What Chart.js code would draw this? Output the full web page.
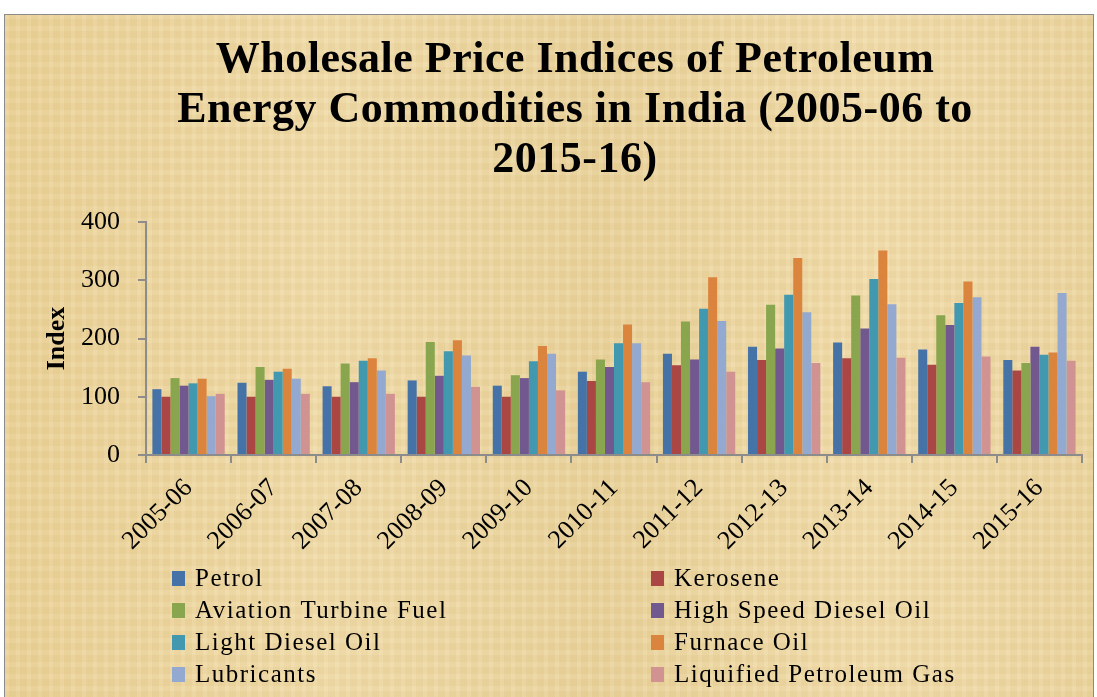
<!DOCTYPE html>
<html>
<head>
<meta charset="utf-8">
<script src="https://cdn.jsdelivr.net/npm/chart.js@4"></script>
<style>
  html, body { margin: 0; padding: 0; background: #fff; overflow: hidden; }
  #box {
    position: absolute; left: 4px; top: 14px; width: 1088px; height: 700px;
    border: 1px solid #8c8c8c;
    background-color: #edd6a0;
    background-image:
      repeating-linear-gradient(90deg, rgba(255,255,255,0.06) 0 4px, rgba(150,110,40,0.03) 4px 11px),
      repeating-linear-gradient(0deg, rgba(255,255,255,0.05) 0 5px, rgba(150,110,40,0.03) 5px 12px),
      linear-gradient(90deg, #ebd297, #f0dba8 30%, #ead39b 55%, #f1dcaa 80%, #ecd59f);
  }
  #wrap { position: absolute; left: 0; top: 0; width: 1097px; height: 697px; }
</style>
</head>
<body>
<div id="box"></div>
<div id="wrap"><canvas id="c" width="1097" height="697"></canvas></div>
<script>
const years = ["2005-06","2006-07","2007-08","2008-09","2009-10","2010-11","2011-12","2012-13","2013-14","2014-15","2015-16"];
const petrol     = [113, 124, 118, 128, 119, 143, 174, 186, 193, 181, 163];
const kerosene   = [100, 100, 100, 100, 100, 127, 154, 163, 166, 155, 145];
const atf        = [132, 151, 157, 194, 137, 164, 229, 258, 274, 240, 158];
const hsd        = [119, 129, 125, 136, 132, 151, 164, 183, 217, 223, 186];
const ldo        = [123, 143, 162, 178, 161, 192, 251, 275, 302, 261, 172];
const furnaceOil = [131, 148, 166, 197, 187, 224, 305, 338, 351, 298, 176];
const lubricants = [101, 131, 145, 171, 174, 192, 230, 245, 259, 271, 278];
const lpg        = [105, 105, 105, 117, 111, 125, 143, 158, 167, 169, 162];
const yTicks = [0, 100, 200, 300, 400];

const series = [
  ["Petrol", petrol, "#4572a7"],
  ["Kerosene", kerosene, "#aa4643"],
  ["Aviation Turbine Fuel", atf, "#89a54e"],
  ["High Speed Diesel Oil", hsd, "#71588f"],
  ["Light Diesel Oil", ldo, "#4198af"],
  ["Furnace Oil", furnaceOil, "#db843d"],
  ["Lubricants", lubricants, "#93a9cf"],
  ["Liquified Petroleum Gas", lpg, "#d19392"]
];

const serif = "'Liberation Serif', 'Times New Roman', serif";
const titleLines = ["Wholesale Price Indices of Petroleum", "Energy Commodities in India (2005-06 to", "2015-16)"];

const titlePlugin = {
  id: "titleLines",
  afterDraw(chart) {
    const ctx = chart.ctx;
    ctx.save();
    ctx.fillStyle = "#000";
    ctx.font = "bold 44px " + serif;
    ctx.letterSpacing = "0.5px";
    ctx.textAlign = "center";
    ctx.textBaseline = "alphabetic";
    titleLines.forEach((t, i) => ctx.fillText(t, 575, 72 + i * 50));
    ctx.restore();
  }
};

const legendPlugin = {
  id: "twoColLegend",
  afterDraw(chart) {
    const ctx = chart.ctx;
    ctx.save();
    ctx.font = "25px " + serif;
    ctx.letterSpacing = "1.5px";
    ctx.textBaseline = "middle";
    chart.data.datasets.forEach((ds, i) => {
      const col = i % 2, row = Math.floor(i / 2);
      const x = col === 0 ? 172 : 651;
      const y = 578 + row * 32;
      ctx.fillStyle = ds.backgroundColor;
      ctx.fillRect(x, y - 7, 13, 15);
      ctx.fillStyle = "#000";
      ctx.fillText(ds.label, x + 23, y + 1);
    });
    ctx.restore();
  }
};

new Chart(document.getElementById("c"), {
  type: "bar",
  data: {
    labels: years,
    datasets: series.map(([label, data, color]) => ({
      label, data, backgroundColor: color, borderWidth: 0,
      categoryPercentage: 0.85, barPercentage: 1.0
    }))
  },
  options: {
    responsive: false,
    animation: false,
    layout: { padding: { top: 222, left: 0, right: 15, bottom: 142 } },
    plugins: { legend: { display: false }, title: { display: false }, tooltip: { enabled: false } },
    scales: {
      x: {
        afterFit(s) { s.height = 100; },
        grid: { drawOnChartArea: false, offset: true, tickLength: 8, color: "#8c8c8c", lineWidth: 2 },
        border: { color: "#8c8c8c", width: 2 },
        ticks: { color: "#000", font: { family: serif, size: 26 }, minRotation: 45, maxRotation: 45, autoSkip: false, padding: 10 }
      },
      y: {
        min: 0, max: 400,
        afterFit(s) { s.width = 146; },
        afterBuildTicks(s) { s.ticks = yTicks.map(v => ({ value: v })); },
        grid: { drawOnChartArea: false, tickLength: 8, color: "#8c8c8c", lineWidth: 2 },
        border: { color: "#8c8c8c", width: 2 },
        ticks: { color: "#000", font: { family: serif, size: 26 }, padding: 18 },
        title: { display: true, text: "Index", color: "#000", font: { family: serif, size: 26, weight: "bold" }, padding: { top: 42, bottom: 0 } }
      }
    }
  },
  plugins: [titlePlugin, legendPlugin]
});
</script>
</body>
</html>
